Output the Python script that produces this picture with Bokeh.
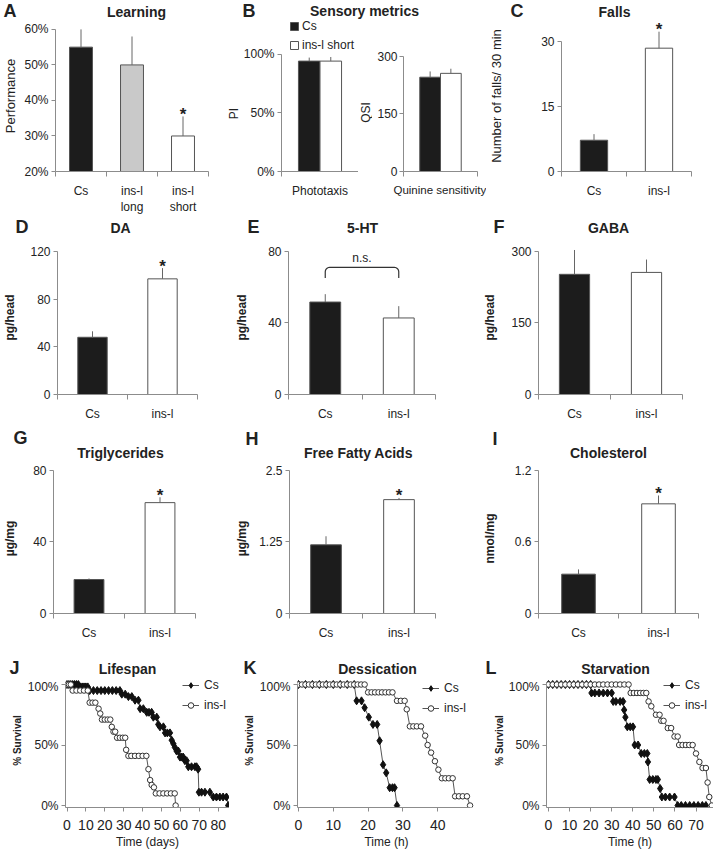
import math
from bokeh.plotting import figure
from bokeh.layouts import row, column
from bokeh.models import (Range1d, Label, FixedTicker, CustomJSTickFormatter,
                          Legend, LegendItem)
from bokeh.embed import file_html
from bokeh.resources import INLINE

FONT = "Liberation Sans"
TXT = "#222222"
AX = "#8c8c8c"
BLACK = "#1c1c1c"
GRAY = "#c9c9c9"
WHITE = "#ffffff"
EDGE = "#555555"
ERR = "#666666"

# ---------------- data ----------------
learn_cats = ["Cs", "ins-l\nlong", "ins-l\nshort"]
learn_vals = [0.55, 0.50, 0.30]
learn_err = [0.05, 0.08, 0.055]
learn_sig = [False, False, True]

sens_series = ["Cs", "ins-l short"]
photo_cat = ["Phototaxis"]
photo_vals = [0.94, 0.94]
photo_err = [0.03, 0.035]
qsi_cat = ["Quinine sensitivity"]
qsi_vals = [245, 255]
qsi_err = [15, 12]

two_cats = ["Cs", "ins-l"]
sig2 = [False, True]
falls_vals = [7.2, 28.4]
falls_err = [1.4, 3.8]
da_vals = [48, 97]
da_err = [5, 9]
ht_vals = [51.7, 42.8]
ht_err = [4.4, 6.6]
gaba_vals = [252, 256]
gaba_err = [51, 27]
tg_vals = [19, 62]
tg_err = [0.6, 3]
ffa_vals = [1.2, 1.99]
ffa_err = [0.15, 0.03]
chol_vals = [0.33, 0.92]
chol_err = [0.04, 0.07]

# survival (time, % surviving)
life_cs_t = [0, 1, 2, 3, 4, 5, 6, 7, 8, 9, 10, 11, 12, 14, 16, 18, 20, 22, 24, 26, 28,
             29, 30.8, 32.5, 34.3, 36, 37.8, 38.7, 40.4, 42.2, 43.4, 44.8, 45.7, 47.5,
             48.3, 49.2, 51, 51.9, 53.1, 54.5, 55.4, 56.3, 57.1, 58, 58.9, 59.8, 60.7,
             61.5, 62.4, 63.3, 64.2, 65.9, 67.7, 68.6, 69.4, 69.8, 71.2, 73, 75.6,
             77.4, 79.1, 80.9, 82.6, 84.4, 85.3]
life_cs_s = [100, 100, 100, 100, 100, 100, 100, 98, 98, 98, 98, 98, 95, 95, 95, 95, 95, 95,
             95, 95, 95, 92, 92, 90, 90, 87, 87, 80, 80, 77, 77, 77, 73, 73, 67, 65, 65,
             60, 60, 60, 54, 51, 48, 45, 45, 40, 40, 40, 37, 37, 32, 32, 32, 32, 30, 11,
             11, 11, 11, 7, 7, 7, 7, 7, 0]
life_in_t = [0, 1, 2, 3, 5, 7, 9, 11, 12, 13.5, 15, 16.7, 17.6, 18.5, 20, 21.5, 22.9, 23.7,
             24.6, 25.5, 26.5, 28, 29.5, 30.8, 31.3, 32.5, 34, 36, 38, 40, 42, 43.1, 44,
             44.8, 46, 47, 49, 51, 53, 55, 57, 57.5]
life_in_s = [100, 100, 100, 95, 95, 95, 95, 95, 85, 85, 85, 80, 76, 71, 71, 71, 71, 65,
             61, 61, 56, 56, 56, 56, 46, 41, 41, 41, 41, 41, 41, 30, 21, 17, 15, 10, 10,
             10, 10, 10, 10, 0]

des_cs_t = [0, 2, 4, 6, 8, 10, 12, 14, 16, 16.7, 18.1, 19, 20.2, 21.4, 22.6, 23.3, 24.3,
            25.2, 26.2, 27, 27.6, 28.3]
des_cs_s = [100, 100, 100, 100, 100, 100, 100, 100, 100, 86.5, 86.5, 80.8, 73, 67, 67,
            53.5, 33.7, 27, 14.7, 14.7, 14.7, 0]
des_in_t = [0, 1, 2, 3, 4, 5, 6, 7, 8, 9, 10, 11, 12, 13, 14, 15, 16, 17, 18, 19,
            20, 21, 22, 23, 24, 25, 26, 27, 28.3, 29.4, 30.5, 31.1, 32, 33, 34, 35.2,
            36.4, 37.1, 38.1, 39.2, 40.2, 41.2, 42.2, 43.2, 44.3, 45, 46.1, 47.2, 48.4, 49.3]
des_in_s = [100, 100, 100, 100, 100, 100, 100, 100, 100, 100, 100, 100, 100, 100, 100,
            100, 100, 100, 100, 100, 93.5, 93.5, 93.5, 93.5, 93.5, 93.5, 93.5, 93.5,
            86.5, 86.5, 86.5, 79.5, 65.4, 65.4, 65.4, 65.4, 57.7, 50, 43.7, 36.6, 29.6,
            22.5, 22.5, 22.5, 22.5, 7.6, 7.6, 7.6, 7.6, 0]

sta_cs_t = [0, 2, 4, 6, 8, 10, 12, 14, 16, 18, 20, 20.4, 22, 24, 26, 28, 30, 30.7, 32, 34,
            35.4, 35.9, 36.5, 37.4, 38.8, 40.1, 40.9, 42.5, 44, 45.5, 46.9, 47.2, 48,
            49.5, 51, 51.9, 53, 53.8, 55.5, 57.5, 59.8, 61.3, 63, 65, 67, 69, 71, 73, 74.7]
sta_cs_s = [100, 100, 100, 100, 100, 100, 100, 100, 100, 100, 100, 93, 93, 93, 93, 93, 93,
            86, 86, 86, 86, 79, 73, 65, 65, 65, 50, 50, 43, 43, 43, 36, 21.5, 21.5, 21.5,
            21.5, 14, 7, 7, 7, 7, 0, 0, 0, 0, 0, 0, 0, 0]
sta_in_t = [0, 2, 4, 6, 8, 10, 12, 14, 16, 18, 20, 22, 24, 26, 28, 30, 32, 34, 36, 38,
            39, 40.5, 42, 43.5, 45, 46.4, 47.5, 48.8, 51, 52.7, 53.5, 54.6, 56.6, 58.2,
            59.8, 61.3, 62, 63.6, 65.2, 66.8, 68.4, 70, 71.6, 73.1, 74.7, 75.5, 76.3, 77.5]
sta_in_s = [100, 100, 100, 100, 100, 100, 100, 100, 100, 100, 100, 100, 100, 100, 100,
            100, 100, 100, 100, 100, 93, 93, 93, 93, 93, 93, 86, 82, 75, 75, 70, 70, 64,
            64, 57, 57, 50, 50, 50, 50, 50, 43, 36, 31, 31, 19, 7, 0]

# ---------------- helpers ----------------
PCT = "return Math.round(tick * 100) + '%';"
NUM = "return String(Math.round(tick * 1000) / 1000);"
W = 713


def make_fig(box, frame, xr, ymap=None, yr=None, axes=True):
    bx0, by0, bx1, by1 = box
    fx0, fy0, fx1, fy1 = frame
    if ymap is not None:
        v_lo, p_lo, v_hi, p_hi = ymap
        k = (p_lo - p_hi) / (v_hi - v_lo)
        yr = (v_lo - (fy1 - p_lo) / k, v_hi + (p_hi - fy0) / k)
    kw = {}
    if not axes:
        kw = dict(x_axis_type=None, y_axis_type=None)
    p = figure(width=bx1 - bx0, height=by1 - by0,
               x_range=Range1d(*xr), y_range=Range1d(*yr),
               output_backend="svg", toolbar_location=None, tools="",
               min_border_left=fx0 - bx0, min_border_right=bx1 - fx1,
               min_border_top=fy0 - by0, min_border_bottom=by1 - fy1, **kw)
    p.xgrid.visible = False
    p.ygrid.visible = False
    p.outline_line_color = None
    p.background_fill_color = "white"
    p.border_fill_color = "white"
    for ax in p.axis:
        ax.axis_line_color = AX
        ax.major_tick_line_color = AX
        ax.minor_tick_line_color = None
        ax.major_label_text_font = FONT
        ax.major_label_text_color = TXT
        ax.major_label_text_font_size = "12px"
        ax.major_tick_in = 0
        ax.major_tick_out = 4
        ax.major_label_standoff = 3
    return p, frame


def strip(box, frame=None):
    return make_fig(box, frame or box, (0, 1), yr=(0, 1), axes=False)


def put(pf, x, y, text, size=12, bold=False, align="center", angle=0.0):
    p, (fx0, fy0, fx1, fy1) = pf
    p.add_layout(Label(x=x - fx0, y=fy1 - y, x_units="screen", y_units="screen",
                       text=text, text_font=FONT, text_font_size=f"{size}px",
                       text_font_style="bold" if bold else "normal",
                       text_align=align, text_baseline="middle", angle=angle,
                       text_color=TXT))


def ylab(pf, text, size, bold, standoff):
    ax = pf[0].yaxis[0]
    ax.axis_label = text
    ax.axis_label_text_font = FONT
    ax.axis_label_text_font_size = f"{size}px"
    ax.axis_label_text_font_style = "bold" if bold else "normal"
    ax.axis_label_text_color = TXT
    ax.axis_label_standoff = standoff


def cat_xaxis(p, labels, nslots, size="12px"):
    p.xaxis.ticker = FixedTicker(ticks=[i + 0.5 for i in range(nslots)],
                                 minor_ticks=list(range(nslots + 1)))
    p.xaxis.formatter = CustomJSTickFormatter(
        args=dict(labels=labels),
        code="const i = Math.round(tick - 0.5); return (i >= 0 && i < labels.length) ? labels[i] : '';")
    p.xaxis.major_tick_out = 0
    p.xaxis.minor_tick_out = 5
    p.xaxis.minor_tick_in = 0
    p.xaxis.minor_tick_line_color = AX
    p.xaxis.major_label_standoff = 7
    p.xaxis.major_label_text_font_size = size
    p.xaxis.bounds = (0, nslots)


def y_axis(p, ticks, code, bounds, size="12px"):
    p.yaxis.ticker = FixedTicker(ticks=ticks)
    p.yaxis.formatter = CustomJSTickFormatter(code=code)
    p.yaxis.bounds = bounds
    p.yaxis.major_label_text_font_size = size


def star(p, x, y):
    p.add_layout(Label(x=x, y=y, text="*", text_font=FONT, text_font_size="17px",
                       text_font_style="bold", text_align="center",
                       text_baseline="middle", y_offset=2, text_color=TXT))


def bar_panel(pf, labels, vals, errs, colors, sig, width=0.42):
    p = pf[0]
    n = len(labels)
    xs = [i + 0.5 for i in range(n)]
    tops = [v + e for v, e in zip(vals, errs)]
    p.vbar(x=xs, top=vals, bottom=0, width=width, fill_color=colors,
           line_color=EDGE, line_width=1)
    p.segment(x0=xs, y0=vals, x1=xs, y1=tops, line_color=ERR, line_width=1)
    cat_xaxis(p, labels, n)
    for x, t, s in zip(xs, tops, sig):
        if s:
            star(p, x, t)
    return xs, tops


def surv_panel(pf, series, xticks, xbounds, xlabel, leg_loc):
    p = pf[0]
    items = []
    for name, t, s, marker, size, fill, line in series:
        y = [v / 100 for v in s]
        lr = p.line(x=t, y=y, line_color="#555555", line_width=1)
        sr = p.scatter(x=t, y=y, marker=marker, size=size, fill_color=fill,
                       line_color=line, line_width=1)
        items.append(LegendItem(label=name, renderers=[lr, sr]))
    p.xaxis.ticker = FixedTicker(ticks=xticks)
    p.xaxis.bounds = xbounds
    p.xaxis.major_label_text_font_size = "14px"
    p.xaxis.major_label_standoff = 8
    p.xaxis.axis_label = xlabel
    p.xaxis.axis_label_text_font = FONT
    p.xaxis.axis_label_text_font_style = "normal"
    p.xaxis.axis_label_text_font_size = "12px"
    p.xaxis.axis_label_text_color = TXT
    p.xaxis.axis_label_standoff = 2
    y_axis(p, [0, 0.5, 1], PCT, (p.y_range.start, 1), "12px")
    leg = Legend(items=items, location=leg_loc, background_fill_alpha=0,
                 border_line_color=None, padding=0, margin=0, spacing=6,
                 glyph_width=17, glyph_height=14, label_height=14,
                 label_standoff=5, label_text_font=FONT,
                 label_text_font_size="12px", label_text_color=TXT)
    p.add_layout(leg)


# ---------------- row 1 ----------------
s1 = strip((0, 0, W, 20))
put(s1, 3, 10, "A", 18, True, "left")
put(s1, 136, 11, "Learning", 14, True)
put(s1, 242, 10, "B", 18, True, "left")
put(s1, 364, 10, "Sensory metrics", 14, True)
put(s1, 510, 10, "C", 18, True, "left")
put(s1, 614, 11, "Falls", 14, True)

R1T, R1B, R1BOX = 20, 173, 217

pA = make_fig((0, R1T, 226, R1BOX), (53, R1T, 208, R1B), (0, 3), ymap=(0.2, 173, 0.6, 29))
bar_panel(pA, learn_cats, learn_vals, learn_err, [BLACK, GRAY, WHITE], learn_sig, 0.45)
y_axis(pA[0], [0.2, 0.3, 0.4, 0.5, 0.6], PCT, (0.2, 0.6))
ylab(pA, "Performance", 13, False, 3)

pPI = strip((226, R1T, 240, R1BOX), (226, R1T, 240, R1B))
put(pPI, 233, 115, "PI", 12, angle=math.pi / 2)

pB1 = make_fig((240, R1T, 358, R1BOX), (279, R1T, 358, R1B), (0, 1), ymap=(0, 173, 1, 54))
b1 = pB1[0]
r1 = b1.vbar(x=[0.5 - 0.14], top=[photo_vals[0]], bottom=0, width=0.28,
             fill_color=BLACK, line_color=EDGE)
r2 = b1.vbar(x=[0.5 + 0.14], top=[photo_vals[1]], bottom=0, width=0.28,
             fill_color=WHITE, line_color=EDGE)
b1.segment(x0=[0.36, 0.64], y0=photo_vals, x1=[0.36, 0.64],
           y1=[v + e for v, e in zip(photo_vals, photo_err)], line_color=ERR)
cat_xaxis(b1, photo_cat, 1)
y_axis(b1, [0, 0.5, 1], PCT, (0, 1))
legB = Legend(items=[LegendItem(label=sens_series[0], renderers=[r1]),
                     LegendItem(label=sens_series[1], renderers=[r2])],
              location=(287 - 279, R1B - 54), background_fill_alpha=0,
              border_line_color=None, padding=0, margin=0, spacing=5,
              glyph_width=10, glyph_height=10, label_height=14, label_standoff=3,
              label_text_font=FONT, label_text_font_size="12px", label_text_color=TXT)
b1.add_layout(legB)

pQ = strip((358, R1T, 372, R1BOX), (358, R1T, 372, R1B))
put(pQ, 365, 114, "QSI", 12, angle=math.pi / 2)

pB2 = make_fig((372, R1T, 486, R1BOX), (403, R1T, 477, R1B), (0, 1), ymap=(0, 173, 300, 56))
b2 = pB2[0]
b2.vbar(x=[0.5 - 0.14, 0.5 + 0.14], top=qsi_vals, bottom=0, width=0.28,
        fill_color=[BLACK, WHITE], line_color=EDGE)
b2.segment(x0=[0.36, 0.64], y0=qsi_vals, x1=[0.36, 0.64],
           y1=[v + e for v, e in zip(qsi_vals, qsi_err)], line_color=ERR)
cat_xaxis(b2, qsi_cat, 1, "11.5px")
y_axis(b2, [0, 150, 300], NUM, (0, 300))
b2.yaxis.major_label_standoff = 2

pC = make_fig((486, R1T, W, R1BOX), (559, R1T, 691, R1B), (0, 2), ymap=(0, 173, 30, 41))
bar_panel(pC, two_cats, falls_vals, falls_err, [BLACK, WHITE], sig2, 0.42)
y_axis(pC[0], [0, 15, 30], NUM, (0, 30))
ylab(pC, "Number of falls/ 30 min", 13, False, 34)

row1 = row(pA[0], pPI[0], b1, pQ[0], b2, pC[0])

# ---------------- row 2 ----------------
s2 = strip((0, R1BOX, W, 238))
put(s2, 15, 226, "D", 18, True, "left")
put(s2, 120, 227, "DA", 14, True)
put(s2, 247, 226, "E", 18, True, "left")
put(s2, 362, 227, "5-HT", 14, True)
put(s2, 493, 226, "F", 18, True, "left")
put(s2, 608, 227, "GABA", 14, True)

pD = make_fig((0, 238, 232, 423), (53, 240, 197, 395), (0, 2), ymap=(0, 395, 120, 251))
bar_panel(pD, two_cats, da_vals, da_err, [BLACK, WHITE], sig2)
y_axis(pD[0], [0, 40, 80, 120], NUM, (0, 120))
ylab(pD, "pg/head", 12, True, 10)

pE = make_fig((232, 238, 475, 423), (283, 240, 435, 395), (0, 2), ymap=(0, 395, 80, 251))
xsE, topsE = bar_panel(pE, two_cats, ht_vals, ht_err, [BLACK, WHITE], [False, False])
y_axis(pE[0], [0, 40, 80], NUM, (0, 80))
ylab(pE, "pg/head", 12, True, 16)
# n.s. bracket between the two bars
yb = max(topsE) + 15
rx, ry = 0.06, 2.5
bx = [xsE[0], xsE[0]]
by = [yb - 6, yb - ry]
for i in range(1, 7):
    a = math.pi - i * (math.pi / 2) / 6
    bx.append(xsE[0] + rx + rx * math.cos(a))
    by.append(yb - ry + ry * math.sin(a))
for i in range(0, 7):
    a = math.pi / 2 - i * (math.pi / 2) / 6
    bx.append(xsE[1] - rx + rx * math.cos(a))
    by.append(yb - ry + ry * math.sin(a))
bx.append(xsE[1])
by.append(yb - 6)
pE[0].line(x=bx, y=by, line_color="#333333", line_width=1.2)
pE[0].add_layout(Label(x=(xsE[0] + xsE[1]) / 2, y=yb, text="n.s.", text_font=FONT,
                       text_font_size="12px", text_align="center",
                       text_baseline="bottom", y_offset=2, text_color=TXT))

pF = make_fig((475, 238, W, 423), (538, 240, 682, 395), (0, 2), ymap=(0, 395, 300, 251))
bar_panel(pF, two_cats, gaba_vals, gaba_err, [BLACK, WHITE], [False, False])
y_axis(pF[0], [0, 150, 300], NUM, (0, 300))
ylab(pF, "pg/head", 12, True, 11)

row2 = row(pD[0], pE[0], pF[0])

# ---------------- row 3 ----------------
s3 = strip((0, 423, W, 461))
put(s3, 13, 437, "G", 18, True, "left")
put(s3, 120, 452, "Triglycerides", 14, True)
put(s3, 245, 438, "H", 18, True, "left")
put(s3, 358, 452, "Free Fatty Acids", 14, True)
put(s3, 492, 438, "I", 18, True, "left")
put(s3, 608, 452, "Cholesterol", 14, True)

pG = make_fig((0, 461, 232, 642), (52, 463, 195, 614), (0, 2), ymap=(0, 614, 80, 470))
bar_panel(pG, two_cats, tg_vals, tg_err, [BLACK, WHITE], sig2)
y_axis(pG[0], [0, 40, 80], NUM, (0, 80))
ylab(pG, "µg/mg", 12, True, 13)

pH = make_fig((232, 461, 475, 642), (283, 463, 435, 614), (0, 2), ymap=(0, 614, 2.5, 470))
bar_panel(pH, two_cats, ffa_vals, ffa_err, [BLACK, WHITE], sig2)
y_axis(pH[0], [0, 1.25, 2.5], NUM, (0, 2.5))
ylab(pH, "µg/mg", 12, True, 7)

pI = make_fig((475, 461, W, 642), (538, 463, 698, 614), (0, 2), ymap=(0, 614, 1.2, 470))
bar_panel(pI, two_cats, chol_vals, chol_err, [BLACK, WHITE], sig2)
y_axis(pI[0], [0, 0.6, 1.2], NUM, (0, 1.2))
ylab(pI, "nmol/mg", 12, True, 15)

row3 = row(pG[0], pH[0], pI[0])

# ---------------- row 4 ----------------
s4 = strip((0, 642, W, 679))
put(s4, 9, 667, "J", 18, True, "left")
put(s4, 127, 668, "Lifespan", 14, True)
put(s4, 243, 667, "K", 18, True, "left")
put(s4, 377, 668, "Dessication", 14, True)
put(s4, 485, 667, "L", 18, True, "left")
put(s4, 615, 668, "Starvation", 14, True)

R4T, R4B, R4BOX = 679, 807, 852
CS_STYLE = ("diamond", 8, "#111111", "#111111")
IN_STYLE = ("circle", 5.5, "#ffffff", "#333333")

sJ = strip((0, R4T, 22, R4BOX), (0, R4T, 22, R4B))
put(sJ, 17, 740, "% Survival", 10, True, angle=math.pi / 2)
pJ = make_fig((22, R4T, 229, R4BOX), (65, R4T, 229, R4B), (-0.8, 86), ymap=(0, 805, 1, 684))
surv_panel(pJ, [("Cs", life_cs_t, life_cs_s) + CS_STYLE,
                ("ins-l", life_in_t, life_in_s) + IN_STYLE],
           [0, 10, 20, 30, 40, 50, 60, 70, 80], (-0.8, 86), "Time (days)",
           (182 - 65, R4B - 712))

sK = strip((229, R4T, 256, R4BOX), (229, R4T, 256, R4B))
put(sK, 249, 740, "% Survival", 10, True, angle=math.pi / 2)
pK = make_fig((256, R4T, 475, R4BOX), (296, R4T, 475, R4B), (-0.29, 50.86), ymap=(0, 805, 1, 684))
surv_panel(pK, [("Cs", des_cs_t, des_cs_s) + CS_STYLE,
                ("ins-l", des_in_t, des_in_s) + IN_STYLE],
           [0, 10, 20, 30, 40], (-0.29, 49.5), "Time (h)",
           (421 - 296, R4B - 715))

sL = strip((475, R4T, 505, R4BOX), (475, R4T, 505, R4B))
put(sL, 499, 740, "% Survival", 10, True, angle=math.pi / 2)
pL = make_fig((505, R4T, W, R4BOX), (545, R4T, W, R4B), (-0.94, 78.3), ymap=(0, 805, 1, 684))
surv_panel(pL, [("Cs", sta_cs_t, sta_cs_s) + CS_STYLE,
                ("ins-l", sta_in_t, sta_in_s) + IN_STYLE],
           [0, 10, 20, 30, 40, 50, 60, 70], (-0.94, 78.3), "Time (h)",
           (662 - 545, R4B - 712))

row4 = row(sJ[0], pJ[0], sK[0], pK[0], sL[0], pL[0])

layout = column(s1[0], row1, s2[0], row2, s3[0], row3, s4[0], row4)
open("out.html", "w").write(file_html(layout, INLINE))
